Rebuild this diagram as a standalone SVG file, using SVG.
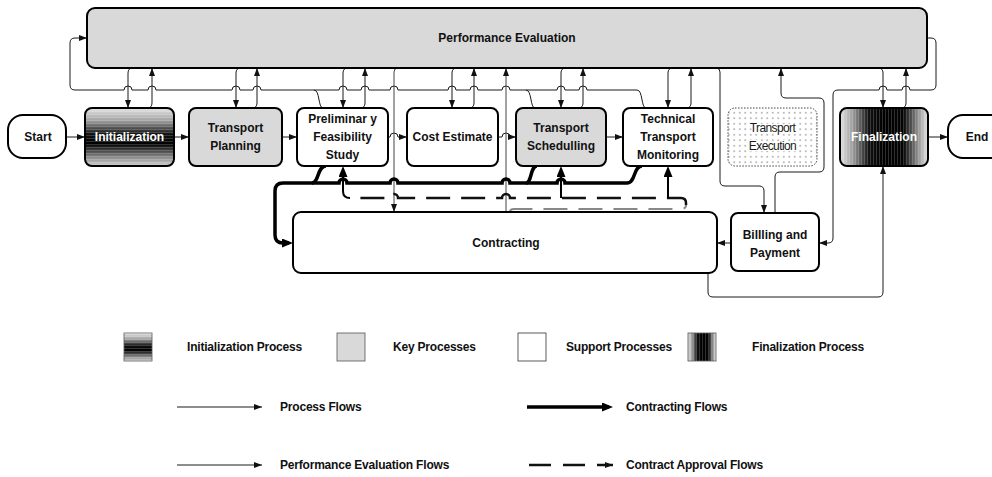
<svg xmlns="http://www.w3.org/2000/svg" width="992" height="477" viewBox="0 0 992 477">
  <defs>
    <style>
      .box { stroke: #000; stroke-width: 2; }
      .lbl { font-family: "Liberation Sans", Arial, sans-serif; font-weight: bold; font-size: 12px; text-anchor: middle; fill: #111; }
      .inv { fill: #fff; }
      .light { font-weight: normal; fill: #1a1a1a; stroke: #fff; stroke-width: 2.5; paint-order: stroke; stroke-linejoin: round; letter-spacing: -0.6px; }
      .leg { font-family: "Liberation Sans", Arial, sans-serif; font-weight: bold; font-size: 12px; fill: #111; letter-spacing: -0.2px; }
      .thin { fill: none; stroke: #1a1a1a; stroke-width: 1; }
      .gray { fill: none; stroke: #444; stroke-width: 1; }
      .thick { fill: none; stroke: #000; stroke-width: 3.5; }
      .stem { fill: none; stroke: #000; stroke-width: 2; }
      .dash { fill: none; stroke: #111; stroke-width: 2.5; stroke-dasharray: 24 11; }
      .faint { fill: none; stroke: #888; stroke-width: 2; stroke-dasharray: 24 11; }
    </style>
    <linearGradient id="gInit" x1="0" y1="0" x2="0" y2="1">
      <stop offset="0" stop-color="#e6e6e6"/>
      <stop offset="0.22" stop-color="#a0a0a0"/>
      <stop offset="0.45" stop-color="#111"/>
      <stop offset="0.62" stop-color="#000"/>
      <stop offset="0.85" stop-color="#8a8a8a"/>
      <stop offset="1" stop-color="#d2d2d2"/>
    </linearGradient>
    <linearGradient id="gFin" x1="0" y1="0" x2="1" y2="0">
      <stop offset="0" stop-color="#e4e4e4"/>
      <stop offset="0.15" stop-color="#9a9a9a"/>
      <stop offset="0.33" stop-color="#111"/>
      <stop offset="0.5" stop-color="#000"/>
      <stop offset="0.72" stop-color="#050505"/>
      <stop offset="0.88" stop-color="#8c8c8c"/>
      <stop offset="1" stop-color="#e8e8e8"/>
    </linearGradient>
    <pattern id="hStripes" width="4" height="3" patternUnits="userSpaceOnUse">
      <rect x="0" y="0" width="4" height="1" fill="#fff" fill-opacity="0.18"/>
    </pattern>
    <pattern id="vStripes" width="3" height="4" patternUnits="userSpaceOnUse">
      <rect x="0" y="0" width="1" height="4" fill="#fff" fill-opacity="0.18"/>
    </pattern>
    <pattern id="dots" width="5.5" height="5.5" patternUnits="userSpaceOnUse">
      <rect width="5.5" height="5.5" fill="#fff"/>
      <circle cx="2.75" cy="2.75" r="0.7" fill="#555"/>
    </pattern>
    <marker id="ah" viewBox="0 0 8 6" refX="8" refY="3" markerWidth="8" markerHeight="6" markerUnits="userSpaceOnUse" orient="auto">
      <path d="M0,0 L8,3 L0,6 z" fill="#111"/>
    </marker>
    <marker id="ahb" viewBox="0 0 11 9" refX="7" refY="4.5" markerWidth="11" markerHeight="9" markerUnits="userSpaceOnUse" orient="auto">
      <path d="M0,0 L11,4.5 L0,9 z" fill="#000"/>
    </marker>
  </defs>

  <rect width="992" height="477" fill="#fff"/>

  <!-- connectors -->
  <g id="connectors">
    <!-- process flows -->
    <path class="thin" marker-end="url(#ah)" d="M66,137 H85"/>
    <path class="thin" marker-end="url(#ah)" d="M174,137 H189"/>
    <path class="thin" marker-end="url(#ah)" d="M282,137 H297"/>
    <path class="thin" marker-end="url(#ah)" d="M388,137 H390 A4,4 0 0 1 398,137 H407"/>
    <path class="thin" marker-end="url(#ah)" d="M498,137 H502 A4,4 0 0 1 510,137 H516"/>
    <path class="thin" marker-end="url(#ah)" d="M606,137 H623"/>
    <path class="thin" marker-end="url(#ah)" d="M928,137 H948"/>

    <!-- performance evaluation: down / up pairs -->
    <path class="thin" marker-end="url(#ah)" d="M133,68 Q128,68 128,73 V108"/>
    <path class="thin" marker-end="url(#ah)" d="M147,108 Q152,108 152,103 V68"/>
    <path class="thin" marker-end="url(#ah)" d="M241,68 Q236,68 236,73 V108"/>
    <path class="thin" marker-end="url(#ah)" d="M252,108 Q257,108 257,103 V68"/>
    <path class="thin" marker-end="url(#ah)" d="M348,68 Q343,68 343,73 V108"/>
    <path class="thin" marker-end="url(#ah)" d="M360,108 Q365,108 365,103 V68"/>
    <path class="thin" marker-end="url(#ah)" d="M457,68 Q452,68 452,73 V108"/>
    <path class="thin" marker-end="url(#ah)" d="M469,108 Q474,108 474,103 V68"/>
    <path class="thin" marker-end="url(#ah)" d="M566,68 Q561,68 561,73 V108"/>
    <path class="thin" marker-end="url(#ah)" d="M578,108 Q583,108 583,103 V68"/>
    <path class="thin" marker-end="url(#ah)" d="M673,68 Q668,68 668,73 V108"/>
    <path class="thin" marker-end="url(#ah)" d="M686,108 Q691,108 691,103 V68"/>
    <path class="thin" marker-end="url(#ah)" d="M878,68 Q883,68 883,73 V108"/>
    <path class="thin" marker-end="url(#ah)" d="M901,108 Q906,108 906,103 V68"/>

    <!-- feedback bus into the left side of Performance Evaluation -->
    <path class="thin" marker-end="url(#ah)" d="M646,108 C641,108 643,90 637,90 H587 A4,4 0 0 0 579,90 H565 A4,4 0 0 0 557,90 H510 A4,4 0 0 0 502,90 H478 A4,4 0 0 0 470,90 H456 A4,4 0 0 0 448,90 H398 A4,4 0 0 0 390,90 H369 A4,4 0 0 0 361,90 H347 A4,4 0 0 0 339,90 H261 A4,4 0 0 0 253,90 H240 A4,4 0 0 0 232,90 H156 A4,4 0 0 0 148,90 H132 A4,4 0 0 0 124,90 H75 Q70,90 70,85 V43 Q70,38 75,38 H87"/>
    <path class="thin" d="M535,108 C530,108 532,90 526,90"/>
    <path class="thin" d="M323,108 C318,108 320,90 314,90"/>

    <!-- right side bus: Performance Evaluation to Billing -->
    <path class="thin" marker-end="url(#ah)" d="M927,38 H931 Q936,38 936,43 V85 Q936,90 931,90 H910 A4,4 0 0 0 902,90 H887 A4,4 0 0 0 879,90 H838 Q833,90 833,95 V238 Q833,243 828,243 H819"/>

    <!-- long verticals between Performance Evaluation and Contracting -->
    <path class="gray" marker-end="url(#ah)" d="M398,68 Q394,68 394,72 V212"/>
    <path class="gray" marker-end="url(#ah)" d="M506,212 V68"/>

    <!-- Billing links -->
    <path class="thin" marker-end="url(#ah)" d="M716,68 Q720,68 720,72 V181 Q720,186 725,186 H759 Q764,186 764,191 V213"/>
    <path class="thin" marker-end="url(#ah)" d="M775,213 V177 Q775,172 780,172 H819 Q824,172 824,167 V103 Q824,98 819,98 H786 Q781,98 781,93 V68"/>
    <path class="thin" marker-end="url(#ah)" d="M731,243 H717"/>
    <path class="thin" marker-end="url(#ah)" d="M708,273 V292 Q708,297 713,297 H878 Q883,297 883,292 V166"/>

    <!-- contracting flows -->
    <path class="thick" marker-end="url(#ahb)" d="M642,166 C633,166 636,183 627,183 H565 A4,4 0 0 0 557,183 H510 A4,4 0 0 0 502,183 H398 A4,4 0 0 0 390,183 H347 A4,4 0 0 0 339,183 H283 Q275,183 275,191 V235 Q275,243 283,243 H289"/>
    <path class="thick" d="M537,166 C530,166 532,183 526,183"/>
    <path class="thick" d="M326,166 C317,166 319,183 312,183"/>

    <!-- contract approval flows -->
    <path class="faint" d="M510,212 Q510,209 514,209 H681 Q686,209 686,205"/>
    <path class="dash" d="M686,205 V203 Q686,198 681,198 H510 A4,4 0 0 0 502,198 H398 A4,4 0 0 0 390,198 H350"/>
    <path class="stem" marker-end="url(#ahb)" d="M350,198 Q343,198 343,191 V170"/>
    <path class="stem" marker-end="url(#ahb)" d="M561,198 V170"/>
    <path class="stem" marker-end="url(#ahb)" d="M668,198 V170"/>
  </g>

  <!-- nodes -->
  <g id="nodes">
    <g id="performance-evaluation">
      <rect class="box" x="87" y="8" width="840" height="60" rx="8" fill="#d9d9d9"/>
      <text class="lbl" x="507" y="42">Performance Evaluation</text>
    </g>
    <g id="start">
      <rect class="box" x="8" y="115" width="58" height="43" rx="15" fill="#fff"/>
      <text class="lbl" x="38" y="141">Start</text>
    </g>
    <g id="initialization">
      <rect class="box" x="85" y="108" width="89" height="58" rx="7" fill="url(#gInit)"/>
      <rect x="86" y="109" width="87" height="56" rx="6" fill="url(#hStripes)"/>
      <text class="lbl inv" x="129.5" y="141">Initialization</text>
    </g>
    <g id="transport-planning">
      <rect class="box" x="189" y="108" width="93" height="58" rx="7" fill="#d9d9d9"/>
      <text class="lbl" x="235.5" y="132">Transport</text>
      <text class="lbl" x="235.5" y="150">Planning</text>
    </g>
    <g id="preliminary-feasibility-study">
      <rect class="box" x="297" y="108" width="91" height="58" rx="7" fill="#fff"/>
      <text class="lbl" x="342.5" y="123">Preliminar y</text>
      <text class="lbl" x="342.5" y="141">Feasibility</text>
      <text class="lbl" x="342.5" y="159">Study</text>
    </g>
    <g id="cost-estimate">
      <rect class="box" x="407" y="108" width="91" height="58" rx="7" fill="#fff"/>
      <text class="lbl" x="452.5" y="141">Cost Estimate</text>
    </g>
    <g id="transport-schedulling">
      <rect class="box" x="516" y="108" width="90" height="58" rx="7" fill="#d9d9d9"/>
      <text class="lbl" x="561" y="132">Transport</text>
      <text class="lbl" x="561" y="150">Schedulling</text>
    </g>
    <g id="technical-transport-monitoring">
      <rect class="box" x="623" y="108" width="90" height="58" rx="7" fill="#fff"/>
      <text class="lbl" x="668" y="123">Technical</text>
      <text class="lbl" x="668" y="141">Transport</text>
      <text class="lbl" x="668" y="159">Monitoring</text>
    </g>
    <g id="transport-execution">
      <rect x="728" y="108" width="89" height="58" rx="7" fill="url(#dots)" stroke="#444" stroke-width="1" stroke-dasharray="1.5 1.5"/>
      <text class="lbl light" x="772.5" y="132">Transport</text>
      <text class="lbl light" x="772.5" y="150">Execution</text>
    </g>
    <g id="finalization">
      <rect class="box" x="840" y="108" width="88" height="58" rx="7" fill="url(#gFin)"/>
      <rect x="841" y="109" width="86" height="56" rx="6" fill="url(#vStripes)"/>
      <text class="lbl inv" x="884" y="141">Finalization</text>
    </g>
    <g id="end">
      <rect class="box" x="948" y="115" width="58" height="43" rx="15" fill="#fff"/>
      <text class="lbl" x="977" y="141">End</text>
    </g>
    <g id="contracting">
      <rect class="box" x="293" y="212" width="424" height="61" rx="8" fill="#fff"/>
      <text class="lbl" x="506" y="247">Contracting</text>
    </g>
    <g id="billing-and-payment">
      <rect class="box" x="731" y="213" width="88" height="58" rx="7" fill="#fff"/>
      <text class="lbl" x="775" y="239">Billling and</text>
      <text class="lbl" x="775" y="257">Payment</text>
    </g>
  </g>

  <!-- legend -->
  <g id="legend">
    <rect x="124" y="333" width="28" height="28" fill="url(#gInit)" stroke="#555" stroke-width="0.8"/>
    <rect x="124" y="333" width="28" height="28" fill="url(#hStripes)"/>
    <text class="leg" x="187" y="351">Initialization Process</text>
    <rect x="337" y="333" width="28" height="28" fill="#d9d9d9" stroke="#555" stroke-width="0.8"/>
    <text class="leg" x="393" y="351">Key Processes</text>
    <rect x="518" y="333" width="28" height="28" fill="#fff" stroke="#333" stroke-width="0.8"/>
    <text class="leg" x="566" y="351">Support Processes</text>
    <rect x="688" y="333" width="28" height="28" fill="url(#gFin)" stroke="#555" stroke-width="0.8"/>
    <rect x="688" y="333" width="28" height="28" fill="url(#vStripes)"/>
    <text class="leg" x="752" y="351">Finalization Process</text>

    <path class="thin" marker-end="url(#ah)" d="M177,407 H262"/>
    <text class="leg" x="280" y="411">Process Flows</text>
    <path class="thick" marker-end="url(#ahb)" d="M527,407 H609"/>
    <text class="leg" x="626" y="411">Contracting Flows</text>

    <path class="thin" marker-end="url(#ah)" d="M177,465 H262"/>
    <text class="leg" x="280" y="469">Performance Evaluation Flows</text>
    <path fill="none" stroke="#111" stroke-width="2.5" stroke-dasharray="22 12" marker-end="url(#ah)" d="M529,465 H613"/>
    <text class="leg" x="626" y="469">Contract Approval Flows</text>
  </g>
</svg>
